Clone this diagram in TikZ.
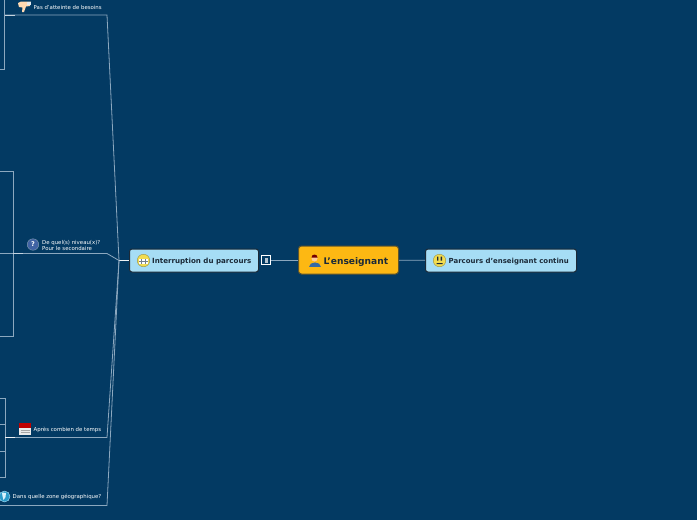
\documentclass[tikz,border=0pt]{standalone}
\usepackage{fontspec}
\setmainfont{DejaVu Sans}
\definecolor{mapback}{HTML}{033A63}
\definecolor{mapline}{HTML}{8CA8BF}
\definecolor{mapblue}{HTML}{A6DDF5}
\definecolor{mapgold}{HTML}{FDB813}
\definecolor{mapedge}{HTML}{1B2A38}
\definecolor{mapface}{HTML}{F2DC50}
\tikzset{
    subtopic/.style={rectangle, draw=mapedge, fill=mapblue, rounded corners=2.5pt, line width=1pt, minimum height=23pt, inner sep=0pt, text=mapedge, font=\bfseries\fontsize{7.1}{8}\selectfont},
    maintopic/.style={rectangle, draw=mapedge!70!mapgold, fill=mapgold, rounded corners=3pt, line width=1pt, minimum height=28pt, minimum width=100pt, inner sep=0pt, text=mapedge, font=\bfseries\fontsize{9.1}{10}\selectfont},
    leaf/.style={inner sep=0pt, text=white, align=left, anchor=west, font=\fontsize{5.4}{5.8}\selectfont},
    link/.style={draw=mapline, line width=0.8pt},
    stub/.style={draw=white!85!mapline, line width=1.3pt},
    smiley/.style={circle, draw=mapedge!40!mapface, fill=mapface, line width=0.4pt, minimum size=12.5pt, inner sep=0pt}
}
\begin{document}
\begin{tikzpicture}[x=1pt,y=-1pt]
    \useasboundingbox[fill=mapback] (0,0) rectangle (697,520);

    % Central topic and first level
    \node[maintopic] (teacher) at (348.5,260) {};
    \node[subtopic, minimum width=129pt] (stop) at (194,260.5) {};
    \node[subtopic, minimum width=151pt] (cont) at (501,260.5) {};
    \node[rectangle, draw=white, fill=mapback, line width=1pt, minimum size=9pt, inner sep=0pt] (fold) at (266,260) {};
    \fill[white!70!mapback] (264.5,257.5) rectangle (267.5,262.5);

    \node[inner sep=0pt, anchor=base west, text=mapedge, font=\bfseries\fontsize{9.1}{10}\selectfont] (teachertext) at (323.5,264) {L'enseignant};
    \node[inner sep=0pt, anchor=base west, text=mapedge, font=\bfseries\fontsize{7.1}{8}\selectfont] (stoptext) at (152,263.5) {Interruption du parcours};
    \node[inner sep=0pt, anchor=base west, text=mapedge, font=\bfseries\fontsize{6.95}{8}\selectfont] (conttext) at (448.5,263.5) {Parcours d'enseignant continu};

    \draw[link] (teacher) -- (cont);
    \draw[link] (teacher) -- (fold);

    % Hub on the left
    \coordinate (hub) at (119,260.5);
    \coordinate (needbend) at (107,15);
    \coordinate (levelbend) at (107,253.5);
    \coordinate (timebend) at (107,437.5);
    \coordinate (zonebend) at (107,505.5);
    \coordinate (needend) at (5,15);
    \coordinate (levelend) at (0,253.5);
    \coordinate (timeend) at (5,437.5);
    \coordinate (zoneend) at (0,505.5);

    \draw[stub] (hub) -- (stop);
    \draw[link] (hub) -- (needbend) -- (needend);
    \draw[link] (hub) -- (levelbend) -- (levelend);
    \draw[link] (hub) -- (timebend) -- (timeend);
    \draw[link] (hub) -- (zonebend) -- (zoneend);

    % Cut off brackets
    \coordinate (needtop) at (4.5,0);
    \coordinate (needlow) at (4.5,69);
    \coordinate (needfree) at (0,69);
    \coordinate (leveltop) at (13,171);
    \coordinate (levellow) at (13,336);
    \coordinate (levelfreetop) at (0,171);
    \coordinate (levelfreelow) at (0,336);
    \coordinate (timetop) at (5,398);
    \coordinate (timelow) at (5,477);
    \coordinate (timefreetop) at (0,398);
    \coordinate (timefreea) at (0,424);
    \coordinate (timefreeb) at (0,451);
    \coordinate (timefreelow) at (0,477);
    \coordinate (timejoina) at (5,424);
    \coordinate (timejoinb) at (5,451);

    \draw[link] (needtop) -- (needlow) -- (needfree);
    \draw[link] (levelfreetop) -- (leveltop) -- (levellow) -- (levelfreelow);
    \draw[link] (timefreetop) -- (timetop) -- (timelow) -- (timefreelow);
    \draw[link] (timefreea) -- (timejoina);
    \draw[link] (timefreeb) -- (timejoinb);

    % Bright stubs
    \coordinate (needstub) at (15,15);
    \coordinate (levelstub) at (13,253.5);
    \coordinate (levelstubend) at (23,253.5);
    \coordinate (timestub) at (15,437.5);
    \draw[stub, draw=mapline!50!white, line width=0.9pt] (needend) -- (needstub);
    \draw[stub, draw=mapline!50!white] (levelstub) -- (levelstubend);
    \draw[stub] (timeend) -- (timestub);

    % Leaf labels
    \node[leaf] (need) at (33.5,7.5) {Pas d'atteinte de besoins};
    \node[leaf] (level) at (42,245.5) {De quel(s) niveau(x)?\\Pour le secondaire};
    \node[leaf] (time) at (33.5,429.5) {Après combien de temps};
    \node[leaf] (zone) at (12.5,497) {Dans quelle zone géographique?};

    % Thumb icon
    \fill[orange!30!white] (18,3) -- (21,1.5) -- (31,1.5) -- (30,6) -- (26,6.5) -- (24,12) -- (22,12) -- (22.5,7.5) -- (19,7) -- cycle;
    \fill[white!75!mapline] (27,1.5) rectangle (31,5);

    % Question icon
    \node[circle, fill=blue!25!mapline!60!mapback, draw=white!50!mapback, line width=0.4pt, minimum size=11.5pt, inner sep=0pt, text=white, font=\bfseries\fontsize{6.5}{6.5}\selectfont] (levelicon) at (33,244.5) {?};

    % Calendar icon
    \fill[white!92!black] (19,424) rectangle (31,435);
    \fill[red!75!black] (19,423) rectangle (31,428);
    \draw[black!35, line width=0.3pt] (20.5,430) -- (29.5,430) (20.5,432.5) -- (29.5,432.5);

    % Globe icon
    \node[circle, fill=cyan!60!teal, draw=white!70!cyan, line width=0.4pt, minimum size=11pt, inner sep=0pt] (zoneicon) at (4.5,496.5) {};
    \fill[white!85!cyan] (2,492.5) -- (6,493) -- (5.5,497) -- (3.5,500) -- (2.5,496) -- cycle;

    % Teacher icon
    \fill[cyan!50!blue!80!black] (308.5,266.5) .. controls (308.5,260.5) and (320.5,260.5) .. (320.5,266.5) -- cycle;
    \fill[orange!40!white] (314.5,258.5) circle (3pt);
    \fill[red!45!black] (311.5,257.5) arc (180:360:3 and 3) -- cycle;

    % Faces
    \node[smiley] (stopface) at (143.5,260.5) {};
    \fill[white] (139,259) rectangle (148,264);
    \draw[mapedge!60, line width=0.3pt] (139,261.5) -- (148,261.5) (141.5,259) -- (141.5,264) (145.5,259) -- (145.5,264);
    \node[smiley] (contface) at (439.5,260.5) {};
    \fill[mapedge] (437,256.5) rectangle (438.3,260.5) (440.7,256.5) rectangle (442,260.5) (436.5,263) rectangle (442.5,264);
\end{tikzpicture}
\end{document}
